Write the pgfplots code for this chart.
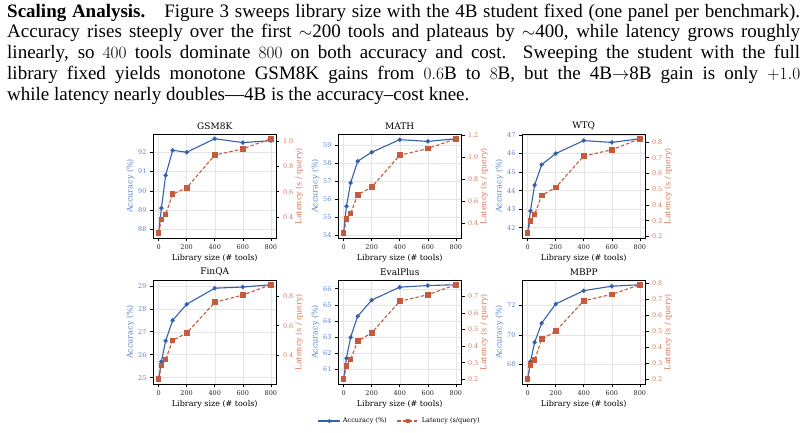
\documentclass[border=0pt]{standalone}
\usepackage{fontspec}
\setmainfont{Liberation Serif}
\newfontfamily\plotfont{DejaVu Serif}
\usepackage{pgfplots}
\pgfplotsset{compat=1.18}
\definecolor{cblue}{RGB}{52,96,172}
\definecolor{cred}{RGB}{197,90,60}
\definecolor{lblue}{RGB}{95,130,200}
\definecolor{lred}{RGB}{212,120,95}
\pgfplotsset{
 base/.style={scale only axis, width=123.5pt, height=104pt, xmin=-40, xmax=840, enlarge y limits=0.05,
   tick align=outside, major tick length=3pt, tick style={black, line width=0.6pt},
   /pgf/number format/assume math mode=true,
   ticklabel style={font=\plotfont\fontsize{6.5}{7}\selectfont},
   label style={font=\plotfont\fontsize{8}{9}\selectfont},
   title style={font=\plotfont\fontsize{9}{10}\selectfont, yshift=-5pt},
   axis line style={line width=0.9pt},
 },
 leftax/.style={base, xtick={0,200,400,600,800}, xtick pos=bottom, ytick pos=left, grid=major,
   grid style={black!10, line width=0.5pt}, xlabel={Library size (\# tools)}, ylabel={Accuracy (\%)},
   ylabel shift=-3pt, xlabel shift=-2pt,
   ylabel style={color=lblue}, yticklabel style={color=lblue}, xticklabel style={color=black!85}},
 rightax/.style={base, axis x line=none, axis y line*=right, ytick pos=right, ylabel={Latency (s / query)},
   ylabel shift=-5pt,
   ylabel style={color=lred}, yticklabel style={color=lred, /pgf/number format/fixed,
   /pgf/number format/fixed zerofill, /pgf/number format/precision=1}},
 accp/.style={cblue, line width=1.1pt, mark=*, mark size=1.6pt, mark options={solid}},
 latp/.style={cred, line width=1.1pt, dash pattern=on 3.5pt off 2pt, mark=square*, mark size=2.3pt, mark options={solid}},
 mylegend/.style={
  legend style={at={(0.5,-0.356)}, anchor=center, draw=none, fill=none, legend columns=2,
   font=\plotfont\fontsize{6.5}{7}\selectfont, /tikz/every even column/.append style={column sep=8pt}},
  legend cell align=left,
  legend image code/.code={\draw[mark repeat=2,mark phase=2,mark size=1.4pt,##1] plot coordinates {(0pt,0pt) (11pt,0pt) (22pt,0pt)};},
  legend entries={Accuracy (\%), Latency (s/query)}},
}
\newcommand\panel[8]{%
\begin{axis}[leftax, at={(#1pt,-#2pt)}, anchor=north west, title={#3}, #6]
\addplot[accp] coordinates {#4};
\end{axis}
\begin{axis}[rightax, at={(#1pt,-#2pt)}, anchor=north west, #7]
#8
\addplot[latp] coordinates {#5};
\end{axis}}
\newcommand\fl[1]{\makebox[793pt][s]{#1}}
\begin{document}
\begin{tikzpicture}
\path (0,0) rectangle (808pt,-432pt);
\begin{scope}
\clip (0,0) rectangle (808pt,-120pt);
\node[anchor=base west, inner sep=0pt, align=left, font=\fontsize{19}{20.7}\selectfont] at (7pt,-100pt)
{\fl{\textbf{Scaling Analysis.}\quad Figure 3 sweeps library size with the 4B student fixed (one panel per benchmark).}\\
\fl{Accuracy rises steeply over the first $\sim$200 tools and plateaus by $\sim$400, while latency grows roughly}\\
\fl{linearly, so $400$ tools dominate $800$ on both accuracy and cost. Sweeping the student with the full}\\
\fl{library fixed yields monotone GSM8K gains from $0.6$B to $8$B, but the 4B$\rightarrow$8B gain is only $+1.0$}\\
while latency nearly doubles---4B is the accuracy--cost knee.};
\end{scope}
\panel{153}{134}{GSM8K}
 {(0,87.8)(20,89.1)(50,90.8)(100,92.1)(200,92.0)(400,92.7)(600,92.5)(800,92.6)}
 {(0,0.27)(20,0.38)(50,0.42)(100,0.58)(200,0.63)(400,0.89)(600,0.94)(800,1.02)}
 {ytick={88,89,90,91,92}}{ytick={0.4,0.6,0.8,1.0}}{}
\panel{338}{134}{MATH}
 {(0,54.1)(20,55.6)(50,56.9)(100,58.1)(200,58.6)(400,59.3)(600,59.2)(800,59.35)}
 {(0,0.31)(20,0.44)(50,0.49)(100,0.66)(200,0.73)(400,1.02)(600,1.08)(800,1.17)}
 {ytick={54,55,56,57,58,59}}{ytick={0.4,0.6,0.8,1.0,1.2}}{}
\panel{522}{134}{WTQ}
 {(0,41.7)(20,42.9)(50,44.3)(100,45.4)(200,46.0)(400,46.7)(600,46.6)(800,46.8)}
 {(0,0.22)(20,0.30)(50,0.34)(100,0.46)(200,0.51)(400,0.71)(600,0.75)(800,0.82)}
 {ytick={42,43,44,45,46,47}}{ytick={0.2,0.3,0.4,0.5,0.6,0.7,0.8}}{}
\panel{153}{280}{FinQA}
 {(0,24.93)(20,25.7)(50,26.6)(100,27.5)(200,28.2)(400,28.9)(600,28.95)(800,29.05)}
 {(0,0.235)(20,0.33)(50,0.37)(100,0.50)(200,0.55)(400,0.76)(600,0.81)(800,0.88)}
 {ytick={25,26,27,28,29}}{ytick={0.4,0.6,0.8}}{}
\panel{338}{280}{EvalPlus}
 {(0,60.4)(20,61.7)(50,63.0)(100,64.3)(200,65.3)(400,66.1)(600,66.2)(800,66.25)}
 {(0,0.20)(20,0.28)(50,0.32)(100,0.43)(200,0.48)(400,0.67)(600,0.71)(800,0.77)}
 {ytick={61,62,63,64,65,66}}
 {ytick={0.2,0.3,0.4,0.5,0.6,0.7}, mylegend}
 {\addlegendimage{accp}}
\panel{522}{280}{MBPP}
 {(0,67.0)(20,68.2)(50,69.5)(100,70.8)(200,72.1)(400,73.0)(600,73.3)(800,73.4)}
 {(0,0.20)(20,0.29)(50,0.32)(100,0.45)(200,0.50)(400,0.69)(600,0.73)(800,0.79)}
 {ytick={68,70,72}}{ytick={0.2,0.3,0.4,0.5,0.6,0.7,0.8}}{}
\end{tikzpicture}
\end{document}
